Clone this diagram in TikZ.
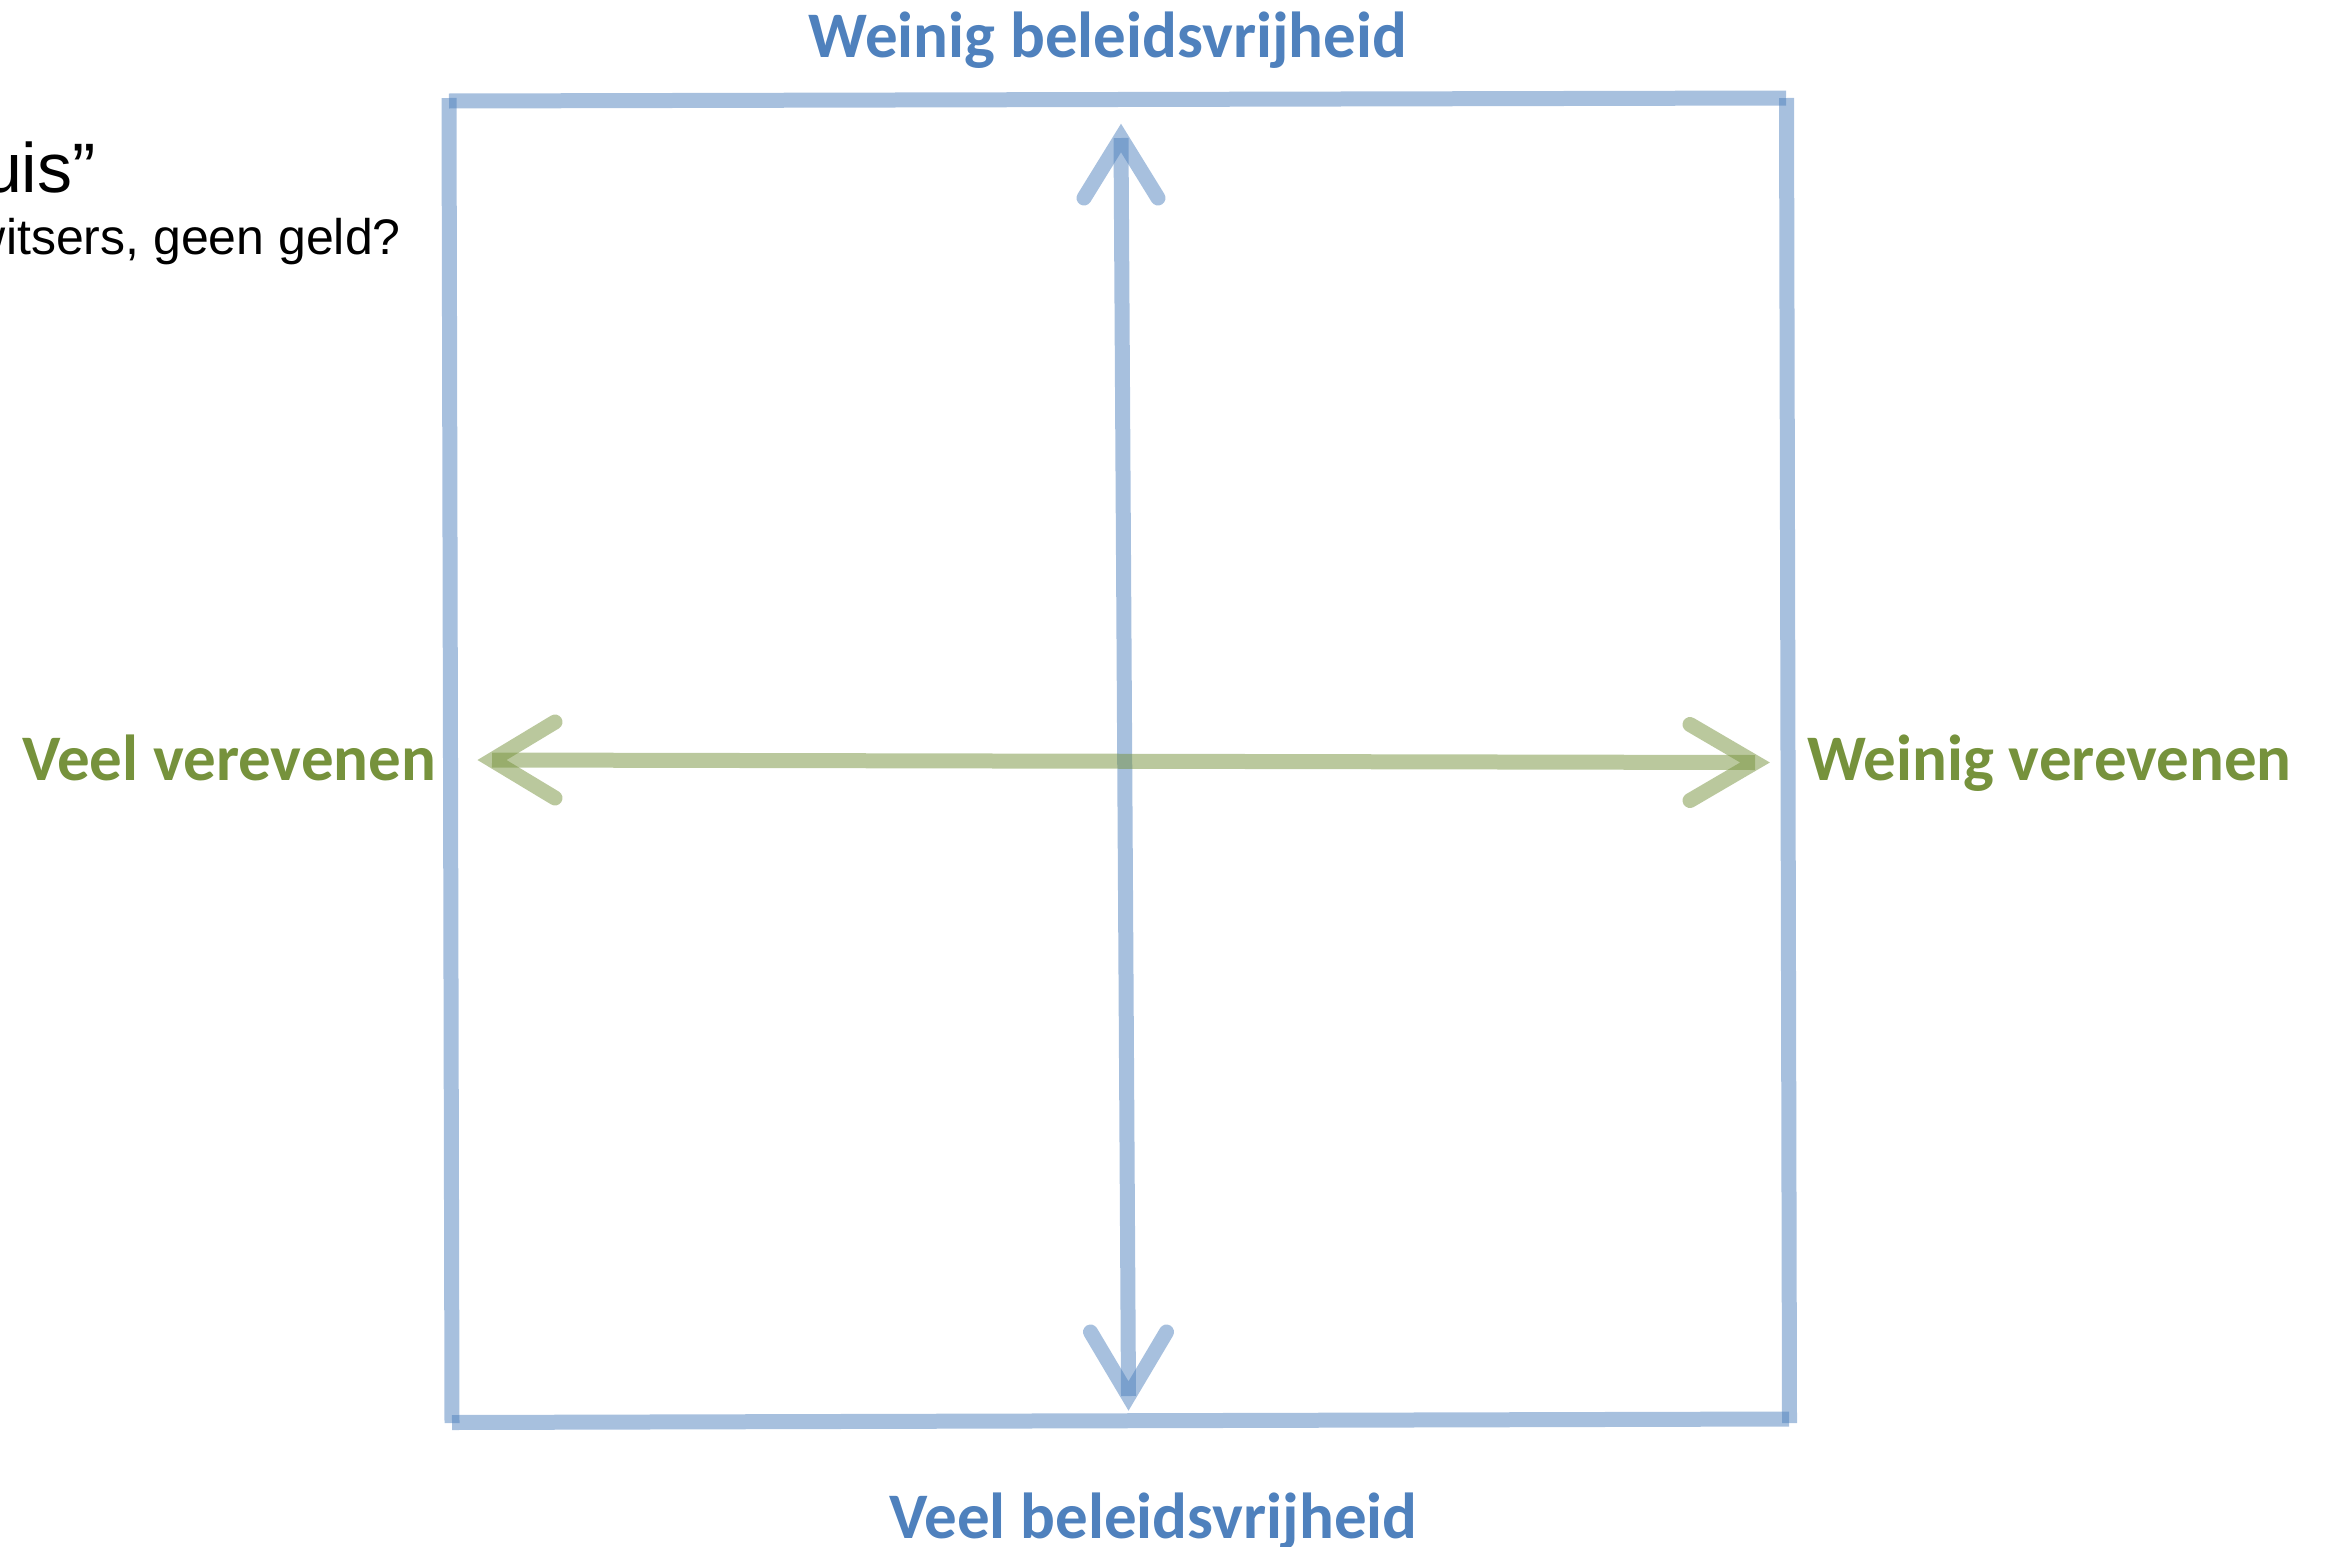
\documentclass[tikz,border=0pt]{standalone}
\usepackage{fontspec}
\setmainfont{Liberation Sans}
\newfontfamily\carlito{Carlito}
\usetikzlibrary{calc}
\definecolor{offblue}{RGB}{79,129,189}
\definecolor{offgreen}{RGB}{118,146,60}
\begin{document}
\begin{tikzpicture}[x=1pt,y=-1pt,
  bluestroke/.style={draw=offblue, draw opacity=0.5, line width=15pt},
  greenstroke/.style={draw=offgreen, draw opacity=0.5, line width=15pt},
  boxline/.style={bluestroke, line cap=butt},
  bshaft/.style={bluestroke, line cap=butt},
  bhead/.style={bluestroke, line cap=round, line join=miter},
  gshaft/.style={greenstroke, line cap=butt},
  ghead/.style={greenstroke, line cap=round, line join=miter},
  bluelbl/.style={inner sep=0pt, text=offblue, font=\carlito\bfseries\fontsize{65}{78}\selectfont},
  greenlbl/.style={inner sep=0pt, text=offgreen, font=\carlito\bfseries\fontsize{65}{78}\selectfont},
  titlelbl/.style={inner sep=0pt, text=black, font=\fontsize{70}{84}\selectfont},
  sublbl/.style={inner sep=0pt, text=black, font=\fontsize{50}{60}\selectfont}
]
\useasboundingbox (0,0) rectangle (2326,1547);
\clip (0,0) rectangle (2326,1547);

% box corner coordinates
\coordinate (tl1) at (449,101);
\coordinate (tr1) at (1786,98);
\coordinate (tr2) at (1786.5,98);
\coordinate (br2) at (1789.5,1423);
\coordinate (bl3) at (452,1422.5);
\coordinate (br3) at (1789,1419);
\coordinate (tl4) at (449,98);
\coordinate (bl4) at (452,1423);

\draw[boxline] (tl1) -- (tr1);
\draw[boxline] (tr2) -- (br2);
\draw[boxline] (bl3) -- (br3);
\draw[boxline] (tl4) -- (bl4);

% labels
\node[bluelbl, anchor=base] (tTop) at (1108,57) {Weinig beleidsvrijheid};
\node[bluelbl, anchor=base] (tBot) at (1153.5,1538) {Veel beleidsvrijheid};
\node[greenlbl, anchor=base west] (tLeft) at (22,780) {Veel verevenen};
\node[greenlbl, anchor=base west] (tRight) at (1807,780) {Weinig verevenen};
\node[titlelbl, anchor=base east] (tTitle) at (96,192) {uis”};
\node[sublbl, anchor=base east] (tSub) at (401,254) {witsers, geen geld?};

% vertical arrow
\coordinate (vT) at (1121,138);
\coordinate (vB) at (1128.5,1396);
\draw[bshaft] (vT) -- (vB);
\draw[bhead] ($(vT)+(-37,60)$) -- (vT) -- ($(vT)+(37,60)$);
\draw[bhead] ($(vB)+(-38,-64)$) -- (vB) -- ($(vB)+(38,-64)$);

% horizontal arrow
\coordinate (hL) at (492,760);
\coordinate (hR) at (1755,762.5);
\draw[gshaft] (hL) -- (hR);
\draw[ghead] ($(hL)+(63,-38)$) -- (hL) -- ($(hL)+(63,38)$);
\draw[ghead] ($(hR)+(-65,-38)$) -- (hR) -- ($(hR)+(-65,38)$);
\end{tikzpicture}
\end{document}
